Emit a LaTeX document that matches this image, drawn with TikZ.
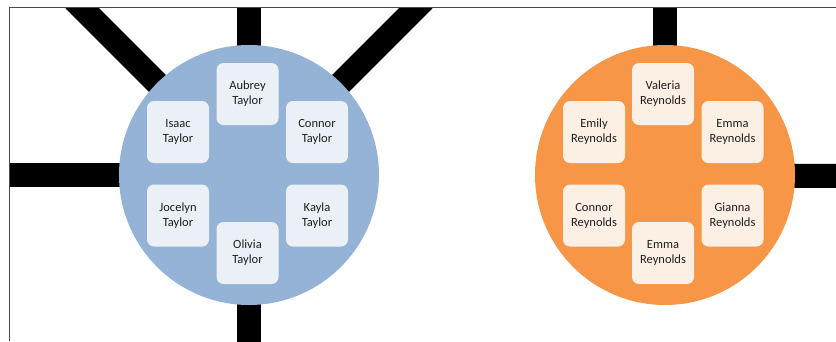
\documentclass[tikz,border=0pt]{standalone}
\usepackage{fontspec}
\setmainfont{Carlito}
\usetikzlibrary{backgrounds}
\definecolor{teamblue}{HTML}{95B3D7}
\definecolor{teamorange}{HTML}{F79646}
\definecolor{cardblue}{HTML}{EBF0F6}
\definecolor{cardorange}{HTML}{FCEFE4}
\definecolor{framegray}{HTML}{4A4A4A}
\tikzset{
  hub/.style={circle, minimum size=260pt, inner sep=0pt},
  card/.style={rounded corners=7pt, minimum width=62pt, minimum height=62pt,
    inner sep=0pt, align=center, font=\fontsize{12.5}{15}\selectfont, text=black!88},
  bar/.style={line width=24pt, line cap=butt, black},
}
\begin{document}
\begin{tikzpicture}[x=1pt, y=-1pt]
\useasboundingbox (0,0) rectangle (836,341);
% hubs
\node[hub, fill=teamblue] (blue) at (249,175) {};
\node[hub, fill=teamorange] (orange) at (665,175) {};
% outer ends of the spokes
\coordinate (bUL) at (74,0);
\coordinate (bT) at (249,0);
\coordinate (bUR) at (424,0);
\coordinate (bL) at (0,175);
\coordinate (bB) at (249,345);
\coordinate (oT) at (665,0);
\coordinate (oR) at (840,176);
\begin{scope}[on background layer]
  \clip (9,7) rectangle (836,341);
  \foreach \e in {bUL,bT,bUR,bL,bB} \draw[bar] (blue.center) -- (\e);
  \foreach \e in {oT,oR} \draw[bar] (orange.center) -- (\e);
\end{scope}
% frame
\coordinate (f1) at (9,341);
\coordinate (f2) at (9,7);
\coordinate (f3) at (836,7);
\draw[framegray, line width=1pt] (f1) -- (f2) -- (f3);
% blue team
\begin{scope}[every node/.style={card, fill=cardblue}]
  \node (b1) at (247.5,94) {Aubrey\\Taylor};
  \node (b2) at (178,132) {Isaac\\Taylor};
  \node (b3) at (317,132) {Connor\\Taylor};
  \node (b4) at (178,215.5) {Jocelyn\\Taylor};
  \node (b5) at (317,215.5) {Kayla\\Taylor};
  \node (b6) at (247.5,253) {Olivia\\Taylor};
\end{scope}
% orange team
\begin{scope}[every node/.style={card, fill=cardorange}]
  \node (o1) at (663,94) {Valeria\\Reynolds};
  \node (o2) at (594,132) {Emily\\Reynolds};
  \node (o3) at (732.5,132) {Emma\\Reynolds};
  \node (o4) at (594,215.5) {Connor\\Reynolds};
  \node (o5) at (732.5,215.5) {Gianna\\Reynolds};
  \node (o6) at (663,253) {Emma\\Reynolds};
\end{scope}
\end{tikzpicture}
\end{document}
